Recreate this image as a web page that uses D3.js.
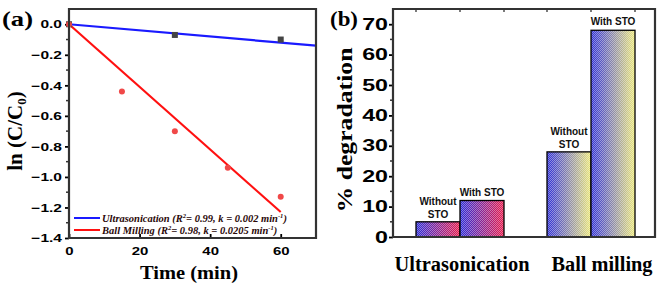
<!DOCTYPE html>
<html lang="en">
<head>
<meta charset="UTF-8">
<script src="https://d3js.org/d3.v7.min.js"></script>
<style>
  body { margin: 0; background: #fff; }
  svg { display: block; }
</style>
</head>
<body>
<script>
// data
const times = [0, 15, 30, 45, 60]
const ultraTimes = [0, 30, 60]
const ultraVals = [0, -0.07, -0.10]
const ballVals = [0, -0.44, -0.70, -0.94, -1.13]
const kUltra = 0.002, kBall = 0.0205
const yTicksA = [0, -0.2, -0.4, -0.6, -0.8, -1.0, -1.2, -1.4]
const xTicksA = [0, 20, 40, 60]

const methods = ["Ultrasonication", "Ball milling"]
const withoutSTO = [5, 28]
const withSTO = [12, 68]
const yTicksB = [0, 10, 20, 30, 40, 50, 60, 70]

const W = 661, H = 291
const serif = "'Liberation Serif', 'DejaVu Serif', serif"
const sans = "'Liberation Sans', Arial, sans-serif"
const frameColor = "#333"

const svg = d3.select("body").append("svg").attr("width", W).attr("height", H)
const defs = svg.append("defs")

// gradients + dither pattern for the bars
function grad(id, c1, c2) {
  const g = defs.append("linearGradient").attr("id", id)
  g.append("stop").attr("offset", "0%").attr("stop-color", c1)
  g.append("stop").attr("offset", "100%").attr("stop-color", c2)
}
grad("gUltra", "#2a2ad8", "#e8184a")
grad("gBall", "#2e2ed6", "#ece878")
const pat = defs.append("pattern").attr("id", "dither").attr("width", 2).attr("height", 2)
  .attr("patternUnits", "userSpaceOnUse")
pat.append("rect").attr("width", 1).attr("height", 1).attr("fill", "#fff").attr("opacity", 0.4)
pat.append("rect").attr("x", 1).attr("y", 1).attr("width", 1).attr("height", 1).attr("fill", "#fff").attr("opacity", 0.4)

function drawFrame(box) {
  svg.append("path")
    .attr("d", `M${box.left},${box.top}H${box.right}V${box.bottom}H${box.left}Z`)
    .attr("fill", "none").attr("stroke", frameColor).attr("stroke-width", 2.2)
}
// stretch tick labels horizontally like the source image
function wideTicks(sel, size, sx, dx, anchor) {
  sel.selectAll("text")
    .attr("font-family", sans).attr("font-weight", "bold").attr("font-size", size).attr("fill", "#000")
    .attr("x", 0).attr("text-anchor", anchor)
    .attr("transform", `translate(${dx},0) scale(${sx},1)`)
}

// ---------- panel (a) ----------
const pa = { left: 69, right: 316, top: 9, bottom: 238 }
const xA = d3.scaleLinear().domain([0, 70]).range([pa.left, pa.right])
const yA = d3.scaleLinear().domain([-1.4, 0.1]).range([pa.bottom, pa.top])

const gA = svg.append("g")

const yAxisA = gA.append("g").attr("transform", `translate(${pa.left},0)`)
  .call(d3.axisLeft(yA).tickValues(yTicksA).tickFormat(d => d3.format(".1f")(d).replace("-", "\u2212")).tickSize(4).tickSizeOuter(0))
wideTicks(yAxisA, 11.5, 1.35, -7, "end")
yAxisA.selectAll(".minor").data(d3.range(-1.3, 0.05, 0.2)).enter().append("line")
  .attr("x1", -3).attr("x2", 0).attr("y1", d => yA(d)).attr("y2", d => yA(d)).attr("stroke", frameColor).attr("stroke-width", 1.5)

const xAxisA = gA.append("g").attr("transform", `translate(0,${pa.bottom})`)
  .call(d3.axisBottom(xA).tickValues(xTicksA).tickSize(-4).tickSizeOuter(0))
wideTicks(xAxisA, 11.5, 1.3, 0, "middle")
xAxisA.selectAll("text").attr("y", 17).attr("dy", 0)
gA.selectAll(".domain").remove()
gA.selectAll(".tick line").attr("stroke-width", 1.8)

// fit lines
gA.append("line").attr("x1", xA(0)).attr("y1", yA(0)).attr("x2", xA(70)).attr("y2", yA(-kUltra * 70))
  .attr("stroke", "#1a1aff").attr("stroke-width", 2.2)
gA.append("line").attr("x1", xA(0)).attr("y1", yA(0)).attr("x2", xA(60)).attr("y2", yA(-kBall * 60))
  .attr("stroke", "#ff1010").attr("stroke-width", 2.2)

// points
gA.selectAll(".sq").data(ultraTimes).enter().append("rect")
  .attr("x", (d) => xA(d) - 3).attr("y", (d, i) => yA(ultraVals[i]) - 3)
  .attr("width", 6).attr("height", 6).attr("fill", "#444")
gA.selectAll(".dot").data(times).enter().append("circle")
  .attr("cx", d => xA(d)).attr("cy", (d, i) => yA(ballVals[i])).attr("r", 3)
  .attr("fill", "#f04848")

// legend
const legA = [
  { c: "#1a1aff", t: "Ultrasonication (R", sup: "2", rest: "= 0.99, k = 0.002 min", sup2: "-1", end: ")" },
  { c: "#ff1010", t: "Ball Milling (R", sup: "2", rest: "= 0.98, k = 0.0205 min", sup2: "-1", end: ")" }
]
legA.forEach((d, i) => {
  const y = 218 + i * 12
  gA.append("line").attr("x1", 74).attr("x2", 100).attr("y1", y).attr("y2", y).attr("stroke", d.c).attr("stroke-width", 2)
  const t = gA.append("text").attr("x", 102).attr("y", y + 3.5)
    .attr("font-family", serif).attr("font-style", "italic").attr("font-weight", "bold").attr("font-size", 10.5).attr("fill", "#2a0808")
  t.append("tspan").text(d.t)
  t.append("tspan").attr("dy", -3.5).attr("font-size", 6.5).text(d.sup)
  t.append("tspan").attr("dy", 3.5).text(d.rest)
  t.append("tspan").attr("dy", -3.5).attr("font-size", 6.5).text(d.sup2)
  t.append("tspan").attr("dy", 3.5).text(d.end)
})

// labels
svg.append("text").attr("x", 2).attr("y", 26).text("(a)").attr("textLength", 31).attr("lengthAdjust", "spacingAndGlyphs")
  .attr("font-family", serif).attr("font-weight", "bold").attr("font-size", 22)
const yl = svg.append("text").attr("transform", `translate(22,131) rotate(-90)`)
  .attr("text-anchor", "middle").attr("font-family", serif).attr("font-weight", "bold").attr("font-size", 21)
yl.append("tspan").text("ln (C/C")
yl.append("tspan").attr("font-size", 13).attr("dy", 4).text("0")
yl.append("tspan").attr("dy", -4).text(")")
svg.append("text").attr("x", 189).attr("y", 279).attr("text-anchor", "middle")
  .attr("textLength", 98).attr("lengthAdjust", "spacingAndGlyphs")
  .attr("font-family", serif).attr("font-weight", "bold").attr("font-size", 19).text("Time (min)")

// ---------- panel (b) ----------
const pb = { left: 393, right: 655, top: 9, bottom: 237 }
const yB = d3.scaleLinear().domain([0, 75]).range([pb.bottom, pb.top])
const xIn = d3.scaleBand().domain(["without", "with"]).range([0, 88])
const gB = svg.append("g")

const yAxisB = gB.append("g").attr("transform", `translate(${pb.left},0)`)
  .call(d3.axisLeft(yB).tickValues(yTicksB).tickSize(4).tickSizeOuter(0))
wideTicks(yAxisB, 16, 1.45, -5, "end")
yAxisB.selectAll(".minor").data(d3.range(5, 75, 10)).enter().append("line")
  .attr("x1", -3).attr("x2", 0).attr("y1", d => yB(d)).attr("y2", d => yB(d)).attr("stroke", frameColor).attr("stroke-width", 1.5)
gB.selectAll(".domain").remove()
gB.selectAll(".tick line").attr("stroke-width", 1.8)

const groupOffset = [23, 154]
const catWidth = [135, 101]
methods.forEach((m, i) => {
  const x0 = pb.left + groupOffset[i]
  const fill = i === 0 ? "url(#gUltra)" : "url(#gBall)"
  const vals = [withoutSTO[i], withSTO[i]]
  const keys = ["without", "with"]
  keys.forEach((k, j) => {
    const x = x0 + xIn(k), w = xIn.bandwidth(), y = yB(vals[j])
    gB.append("rect").attr("x", x).attr("y", y).attr("width", w).attr("height", pb.bottom - y).attr("fill", fill)
    gB.append("rect").attr("x", x).attr("y", y).attr("width", w).attr("height", pb.bottom - y)
      .attr("fill", "url(#dither)").attr("stroke", "#000").attr("stroke-width", 1.3)
    // small ticks on the top frame at bar edges
    gB.append("line").attr("x1", x).attr("x2", x).attr("y1", pb.top).attr("y2", pb.top + 3).attr("stroke", frameColor).attr("stroke-width", 1.3)
    if (j === 1) gB.append("line").attr("x1", x + w).attr("x2", x + w).attr("y1", pb.top).attr("y2", pb.top + 3).attr("stroke", frameColor).attr("stroke-width", 1.3)
    const lab = gB.append("text").attr("text-anchor", "middle").attr("font-family", sans).attr("font-weight", "bold")
      .attr("font-size", 10).attr("fill", "#111")
    if (k === "without") {
      lab.append("tspan").attr("x", x + w / 2).attr("y", y - 17).text("Without")
      lab.append("tspan").attr("x", x + w / 2).attr("y", y - 4).text("STO")
    } else {
      lab.append("tspan").attr("x", x + w / 2).attr("y", y - 5).text("With STO")
    }
  })
  gB.append("text").attr("x", x0 + 44 + (i === 0 ? 2 : 11)).attr("y", 271).attr("text-anchor", "middle")
    .attr("textLength", catWidth[i]).attr("lengthAdjust", "spacingAndGlyphs")
    .attr("font-family", serif).attr("font-weight", "bold").attr("font-size", 20).text(m)
})

svg.append("text").attr("x", 330).attr("y", 26).text("(b)").attr("textLength", 28).attr("lengthAdjust", "spacingAndGlyphs")
  .attr("font-family", serif).attr("font-weight", "bold").attr("font-size", 22)
svg.append("text").attr("transform", `translate(352,130) rotate(-90)`)
  .attr("text-anchor", "middle").attr("textLength", 165).attr("lengthAdjust", "spacingAndGlyphs")
  .attr("font-family", serif).attr("font-weight", "bold").attr("font-size", 22)
  .text("% degradation")

drawFrame(pa)
drawFrame(pb)
</script>
</body>
</html>
